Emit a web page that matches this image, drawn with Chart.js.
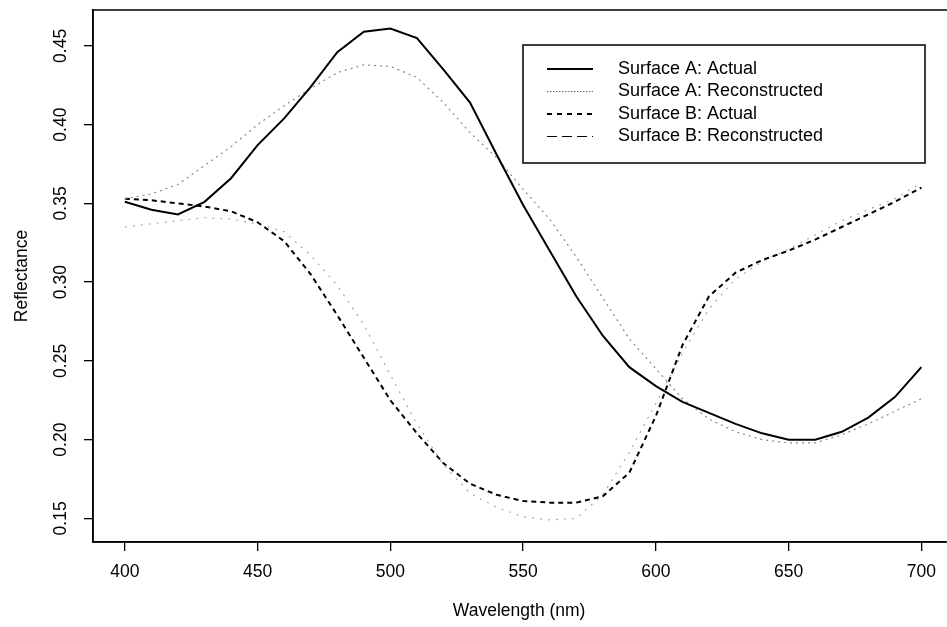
<!DOCTYPE html>
<html>
<head>
<meta charset="utf-8">
<script src="https://cdn.jsdelivr.net/npm/chart.js@4"></script>
<style>
  html, body { margin: 0; padding: 0; background: #fff; overflow: hidden; }
  canvas { display: block; }
</style>
</head>
<body>
<canvas id="chart" width="947" height="627"></canvas>
<script>
// wavelength grid (nm)
const wavelengths = [400, 410, 420, 430, 440, 450, 460, 470, 480, 490, 500,
  510, 520, 530, 540, 550, 560, 570, 580, 590, 600,
  610, 620, 630, 640, 650, 660, 670, 680, 690, 700];

const surfaceAActual = [0.351, 0.346, 0.343, 0.351, 0.366, 0.387, 0.404, 0.424, 0.446, 0.459, 0.461,
  0.455, 0.435, 0.414, 0.381, 0.349, 0.320, 0.291, 0.266, 0.246, 0.234,
  0.224, 0.217, 0.210, 0.204, 0.200, 0.200, 0.205, 0.214, 0.227, 0.246];
const surfaceARecon = [0.353, 0.356, 0.362, 0.374, 0.386, 0.400, 0.412, 0.423, 0.433, 0.438, 0.437,
  0.430, 0.414, 0.395, 0.379, 0.359, 0.340, 0.316, 0.290, 0.264, 0.245,
  0.226, 0.213, 0.205, 0.200, 0.198, 0.198, 0.203, 0.210, 0.218, 0.226];
const surfaceBActual = [0.353, 0.352, 0.350, 0.348, 0.345, 0.338, 0.326, 0.305, 0.279, 0.252, 0.225,
  0.204, 0.185, 0.172, 0.165, 0.161, 0.160, 0.160, 0.164, 0.179, 0.215,
  0.260, 0.291, 0.306, 0.314, 0.320, 0.327, 0.335, 0.343, 0.351, 0.360];
const surfaceBRecon = [0.335, 0.337, 0.339, 0.341, 0.340, 0.337, 0.332, 0.317, 0.298, 0.273, 0.241,
  0.210, 0.184, 0.166, 0.157, 0.151, 0.149, 0.150, 0.165, 0.192, 0.223,
  0.255, 0.283, 0.302, 0.313, 0.321, 0.330, 0.339, 0.346, 0.353, 0.363];

const seriesLabels = ['Surface A: Actual', 'Surface A: Reconstructed', 'Surface B: Actual', 'Surface B: Reconstructed'];
const xTicks = [400, 450, 500, 550, 600, 650, 700];
const yTicks = [0.15, 0.20, 0.25, 0.30, 0.35, 0.40, 0.45];

const FONT = '"Liberation Sans", Arial, Helvetica, sans-serif';
Chart.defaults.font.family = FONT;
Chart.defaults.font.size = 17.5;
Chart.defaults.color = '#000';

function pts(values) {
  return wavelengths.map((w, i) => ({ x: w, y: values[i] }));
}

// R-style frame, rotated y tick labels and boxed legend
const rStyle = {
  id: 'rStyle',
  afterDraw(chart) {
    const { ctx, chartArea: a, scales: { y } } = chart;
    ctx.save();
    ctx.strokeStyle = '#000';
    ctx.lineWidth = 1.5;
    // the scan is cut off on the right, so only top/left/bottom of the frame show
    ctx.beginPath();
    ctx.moveTo(a.right + 2, a.top);
    ctx.lineTo(a.left, a.top);
    ctx.lineTo(a.left, a.bottom);
    ctx.lineTo(a.right + 2, a.bottom);
    ctx.stroke();

    ctx.fillStyle = '#000';
    ctx.font = '17.5px ' + FONT;
    ctx.textAlign = 'center';
    ctx.textBaseline = 'middle';
    yTicks.forEach(v => {
      ctx.save();
      ctx.translate(61, y.getPixelForValue(v));
      ctx.rotate(-Math.PI / 2);
      ctx.fillText(v.toFixed(2), 0, 0);
      ctx.restore();
    });

    // legend box
    ctx.fillStyle = '#fff';
    ctx.fillRect(523, 45, 402, 118);
    ctx.strokeRect(523, 45, 402, 118);
    ctx.fillStyle = '#000';
    ctx.font = '18px ' + FONT;
    ctx.textAlign = 'left';
    chart.data.datasets.forEach((ds, i) => {
      const ly = 69 + i * 22.5;
      ctx.beginPath();
      ctx.setLineDash(ds.legendDash);
      ctx.strokeStyle = ds.legendColor;
      ctx.lineWidth = ds.borderWidth;
      ctx.moveTo(547, ly);
      ctx.lineTo(593, ly);
      ctx.stroke();
      ctx.setLineDash([]);
      ctx.fillText(ds.label, 618, ly);
    });
    ctx.restore();
  }
};

const ctx = document.getElementById('chart').getContext('2d');
new Chart(ctx, {
  type: 'line',
  data: {
    datasets: [
      { label: seriesLabels[0], data: pts(surfaceAActual), borderColor: '#000', borderWidth: 2,
        legendColor: '#000', legendDash: [] },
      { label: seriesLabels[1], data: pts(surfaceARecon), borderColor: '#888', borderWidth: 1.2,
        borderDash: [2, 4], legendColor: '#666', legendDash: [1.5, 1.5] },
      { label: seriesLabels[2], data: pts(surfaceBActual), borderColor: '#000', borderWidth: 2,
        borderDash: [5, 4], legendColor: '#000', legendDash: [5, 5] },
      { label: seriesLabels[3], data: pts(surfaceBRecon), borderColor: '#aaa', borderWidth: 1.2,
        borderDash: [2, 6], legendColor: '#000', legendDash: [10, 5, 10, 5, 10, 5, 2, 20] }
    ]
  },
  options: {
    responsive: false,
    animation: false,
    layout: { padding: { top: 10, right: 0, left: 0, bottom: 0 } },
    elements: { point: { radius: 0 }, line: { tension: 0, fill: false } },
    plugins: { legend: { display: false }, tooltip: { enabled: false } },
    scales: {
      x: {
        type: 'linear', min: 388, max: 709,
        afterBuildTicks: s => { s.ticks = xTicks.map(v => ({ value: v })); },
        afterFit: s => { s.height = 85; },
        grid: { drawOnChartArea: false, drawTicks: true, tickLength: 9, color: '#000', lineWidth: 1.3 },
        border: { display: true, color: '#000', width: 1.5 },
        ticks: { padding: 11, color: '#000', maxRotation: 0, autoSkip: false },
        title: { display: true, text: 'Wavelength (nm)', color: '#000', padding: { top: 0, bottom: 5 } }
      },
      y: {
        type: 'linear', min: 0.135, max: 0.4728,
        afterBuildTicks: s => { s.ticks = yTicks.map(v => ({ value: v })); },
        afterFit: s => { s.width = 93; },
        grid: { drawOnChartArea: false, drawTicks: true, tickLength: 9, color: '#000', lineWidth: 1.3 },
        border: { display: true, color: '#000', width: 1.5 },
        ticks: { display: false },
        title: { display: true, text: 'Reflectance', color: '#000', padding: { top: 12, bottom: 0 } }
      }
    }
  },
  plugins: [rStyle]
});
</script>
</body>
</html>
